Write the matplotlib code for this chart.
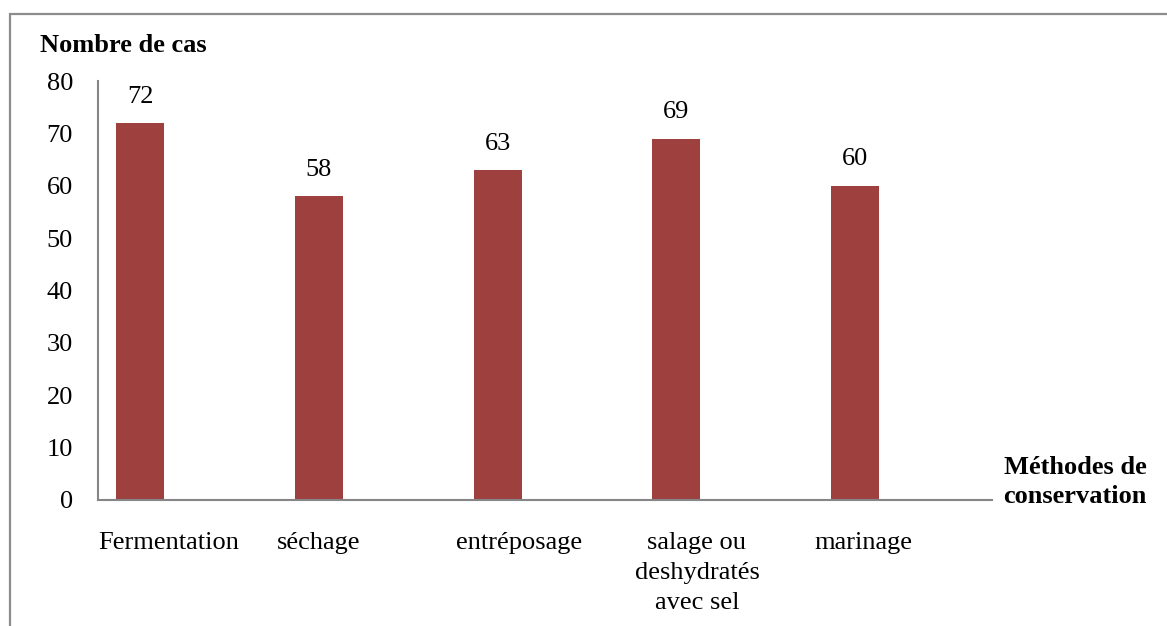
import matplotlib
matplotlib.use("Agg")
import matplotlib.pyplot as plt
from matplotlib.patches import Rectangle

# Data
categories = ["Fermentation", "séchage", "entréposage",
              "salage ou\ndeshydratés\navec sel", "marinage"]
cases = [72, 58, 63, 69, 60]
y_ticks = [0, 10, 20, 30, 40, 50, 60, 70, 80]

plt.rcParams["font.family"] = ["Liberation Serif", "DejaVu Serif"]

W, H = 1167, 626
FS = 19
fig = plt.figure(figsize=(W / 100, H / 100), dpi=100)
fig.patch.set_facecolor("white")

ax = fig.add_axes([98 / W, 1 - 500 / H, 894 / W, 419 / H])

bar_color = "#9E413E"
x = list(range(len(cases)))
ax.bar(x, cases, width=0.268, color=bar_color, zorder=2)

# value labels above each bar
for xi, v in zip(x, cases):
    ax.annotate(str(v), (xi, v), xytext=(0, 19), textcoords="offset points",
                ha="center", va="center", fontsize=FS, color="black")

ax.set_xlim(-0.235, 4.765)
ax.set_ylim(0, 80)
ax.set_yticks(y_ticks)
ax.set_yticklabels([str(t) for t in y_ticks], fontsize=FS)

# category labels
label_pos = [0.162, 1.001, 2.12, 3.115, 4.044]
ax.set_xticks(label_pos)
ax.set_xticklabels(categories, fontsize=FS, linespacing=1.47)

ax.tick_params(axis="y", length=0, pad=18)
ax.tick_params(axis="x", length=0, pad=23)

for s in ["top", "right"]:
    ax.spines[s].set_visible(False)
for s in ["left", "bottom"]:
    ax.spines[s].set_color("#868686")
    ax.spines[s].set_linewidth(1.5)

# axis titles
fig.text(40 / W, 1 - 46 / H, "Nombre de cas", fontsize=FS, fontweight="bold",
         ha="left", va="center")
fig.text(1075 / W, 1 - 482 / H, "Méthodes de\nconservation", fontsize=FS,
         fontweight="bold", ha="center", va="center", linespacing=1.38)

# outer frame
fig.add_artist(Rectangle((10 / W, -0.2), 2.0, 1.2 - 14 / H, transform=fig.transFigure,
                         fill=False, edgecolor="#8c8c8c", linewidth=1.6))

fig.savefig("out.png", dpi=100, facecolor="white")
